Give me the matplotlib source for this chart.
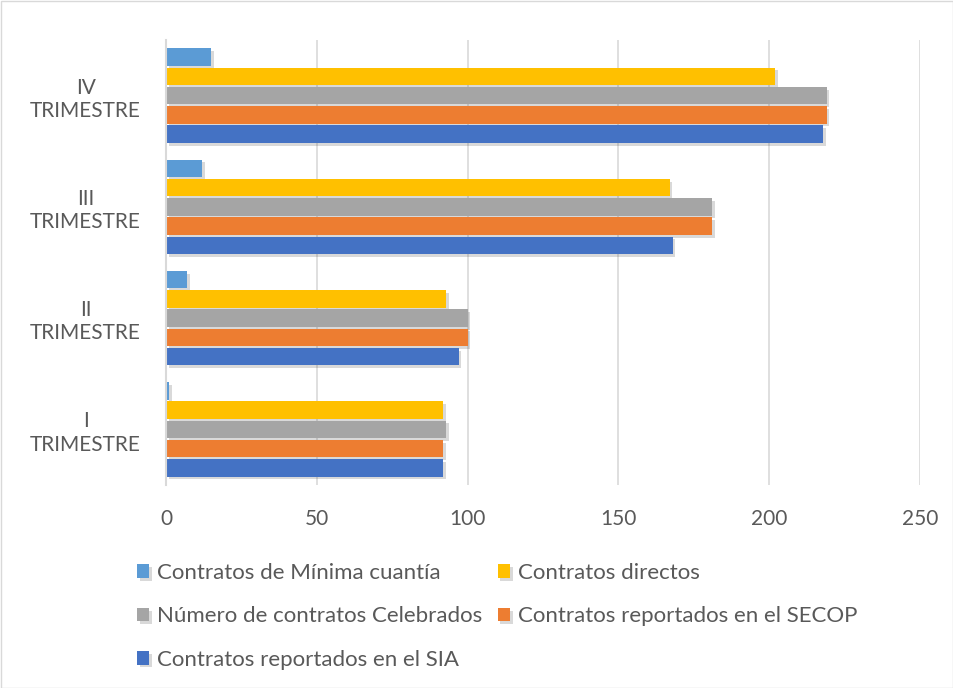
import matplotlib
matplotlib.use("Agg")
import matplotlib.pyplot as plt
import matplotlib.patheffects as pe
import numpy as np

categories = ["I\nTRIMESTRE", "II\nTRIMESTRE", "III\nTRIMESTRE", "IV\nTRIMESTRE"]
series_names = ["Contratos de Mínima cuantía", "Contratos directos",
                "Número de contratos Celebrados", "Contratos reportados en el SECOP",
                "Contratos reportados en el SIA"]
minima = [1, 7, 12, 15]
directos = [92, 93, 167, 202]
celebrados = [93, 100, 181, 219]
secop = [92, 100, 181, 219]
sia = [92, 97, 168, 218]
x_ticks = [0, 50, 100, 150, 200, 250]

colors = ["#5B9BD5", "#FFC000", "#A5A5A5", "#ED7D31", "#4472C4"]
values = [minima, directos, celebrados, secop, sia]

plt.rcParams['font.family'] = ['Lato', 'DejaVu Sans']
fig = plt.figure(figsize=(9.54, 6.88), dpi=100)
ax = fig.add_axes([166/954, 1-485/688, (920-166)/954, (485-40)/688])

y = np.arange(len(categories))
pitch = 0.173
h = 0.158
offsets = [2*pitch, pitch, 0, -pitch, -2*pitch]
handles = []
for vals, col, off, name in zip(values, colors, offsets, series_names):
    b = ax.barh(y + off, vals, height=h, color=col, label=name, zorder=3)
    for p in b.patches:
        p.set_path_effects([pe.SimplePatchShadow(offset=(2, -2), alpha=0.22, shadow_rgbFace='#555555'), pe.Normal()])
    handles.append(b)

ax.set_xlim(0, 250)
ax.set_ylim(-0.5, 3.5)
ax.set_xticks(x_ticks)
ax.set_xticklabels([str(t) for t in x_ticks])
ax.set_yticks(y)
ax.set_yticklabels(categories, multialignment='center')
ax.tick_params(axis='both', length=0, labelsize=15, colors='#595959')
ax.tick_params(axis='y', pad=18)
ax.tick_params(axis='x', pad=17)
ax.grid(axis='x', color='#D9D9D9', linewidth=1.2, zorder=0)
for s in ['top', 'right', 'bottom']:
    ax.spines[s].set_visible(False)
ax.spines['left'].set_color('#D9D9D9')
ax.spines['left'].set_linewidth(1.5)
ax.spines['left'].set_zorder(4)

order = [0, 2, 4, 1, 3]
leg = fig.legend([handles[i] for i in order], [series_names[i] for i in order],
                 ncol=2, loc='upper left', bbox_to_anchor=(137/954, 1-563/688),
                 frameon=False, fontsize=16, handlelength=0.55, handleheight=0.55,
                 handletextpad=0.36, columnspacing=0.68, labelspacing=1.05,
                 borderpad=0, borderaxespad=0)
for t in leg.get_texts():
    t.set_color('#595959')

border = plt.Rectangle((0.5/954, 0.5/688), 1-1/954, 1-1/688, transform=fig.transFigure,
                       fill=False, edgecolor='#D9D9D9', linewidth=1)
fig.patches.append(border)

fig.savefig("out.png", dpi=100)
